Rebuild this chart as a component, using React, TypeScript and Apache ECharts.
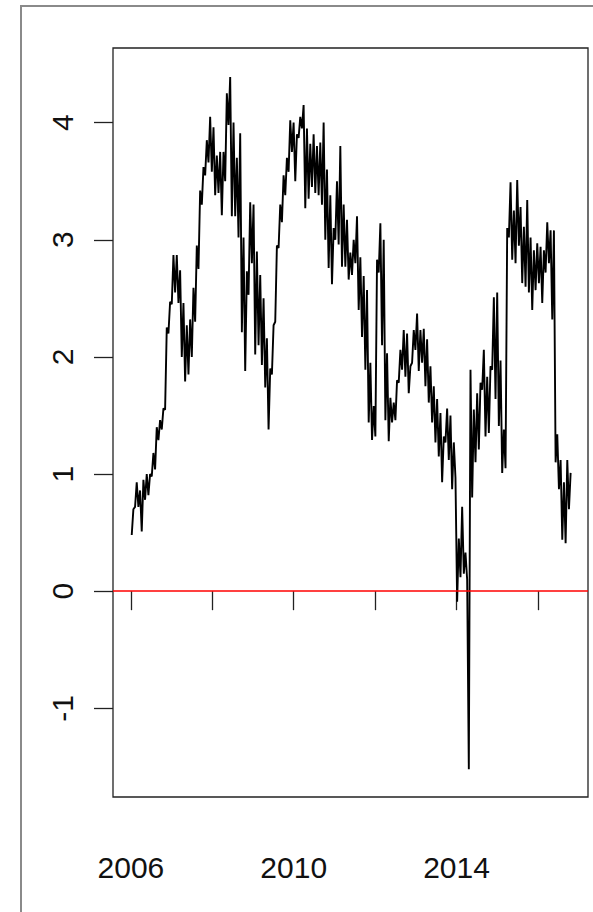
import React, { useEffect, useRef } from "react";
import * as echarts from "echarts";

// Sampling of the series (decimal years), one value every STEP years
const START_YEAR = 2006.02;
const STEP = 0.041;

// Series values (alternating low / high envelope)
const vals2006 = [
  0.48, 0.70, 0.72, 0.93, 0.72, 0.86, 0.51, 0.95, 0.78, 1.00,
  0.82, 1.00, 0.98, 1.18, 1.04, 1.40, 1.29, 1.46, 1.38, 1.56,
  1.55, 2.25, 2.20, 2.47, 2.45, 2.87, 2.55, 2.87, 2.46, 2.74,
  2.00, 2.46, 1.79, 2.27, 1.85, 2.32, 2.00, 2.59, 2.30, 2.95,
  2.75, 3.42, 3.30, 3.62, 3.55, 3.85, 3.66, 4.05, 3.58, 3.96,
];
const vals2008 = [
  3.38, 3.72, 3.40, 3.75, 3.21, 3.75, 3.50, 4.25, 3.98, 4.39,
  3.20, 4.00, 3.20, 3.70, 3.02, 3.91, 2.21, 3.02, 1.88, 2.73,
  2.53, 3.32, 2.80, 3.30, 2.02, 2.90, 2.10, 2.70, 1.93, 2.50,
  1.74, 2.16, 1.38, 1.90, 1.85, 2.27, 2.30, 2.95, 2.93, 3.30,
  3.15, 3.55, 3.38, 3.70, 3.58, 4.02, 3.75, 4.00, 3.50, 3.90,
];
const vals2010 = [
  3.87, 4.05, 3.95, 4.15, 3.27, 3.95, 3.35, 3.82, 3.45, 3.90,
  3.40, 3.80, 3.38, 3.83, 3.30, 4.00, 3.00, 3.60, 2.76, 3.38,
  2.62, 3.10, 3.00, 3.50, 2.96, 3.80, 2.77, 3.30, 2.77, 3.17,
  2.66, 2.89, 2.70, 3.00, 2.80, 3.20, 2.40, 2.85, 2.17, 2.69,
  1.89, 2.57, 1.44, 1.95, 1.29, 1.58, 1.32, 2.83, 2.72, 3.14,
];
const vals2012 = [
  2.10, 3.00, 1.46, 2.03, 1.28, 1.65, 1.44, 1.61, 1.46, 1.80,
  1.78, 2.06, 1.89, 2.23, 1.83, 2.20, 1.69, 1.92, 1.95, 2.23,
  2.06, 2.37, 1.88, 2.23, 1.95, 2.24, 1.75, 2.15, 1.61, 1.92,
  1.44, 1.75, 1.27, 1.64, 1.15, 1.52, 0.93, 1.32, 1.27, 1.56,
  1.12, 1.50, 0.87, 1.27, 0.97, -0.09, 0.45, 0.12, 0.72, 0.15,
];
const vals2014 = [
  0.33, 0.10, -1.52, 1.89, 0.80, 1.55, 1.10, 1.69, 1.21, 1.78,
  1.72, 2.06, 1.32, 1.83, 1.35, 1.92, 1.89, 2.51, 1.64, 2.55,
  1.41, 1.97, 1.01, 1.38, 1.05, 3.10, 3.02, 3.49, 2.83, 3.25,
  2.80, 3.51, 2.95, 3.28, 2.63, 3.11, 2.60, 3.34, 2.55, 3.02,
  2.40, 2.91, 2.57, 2.97, 2.63, 2.94, 2.46, 2.91, 2.72, 3.15,
  2.80, 3.08, 2.32, 3.08, 1.10, 1.34, 0.87, 1.12, 0.44, 0.93,
  0.41, 1.12, 0.70, 1.01,
];

const xTickValues = [2006, 2008, 2010, 2012, 2014, 2016];
const xLabelValues = [2006, 2010, 2014];
const yTickValues = [-1, 0, 1, 2, 3, 4];
const refLineValue = 0;

const FONT = "'Liberation Sans', Arial, sans-serif";

export default function App() {
  const ref = useRef<HTMLDivElement>(null);

  useEffect(() => {
    document.body.style.margin = "0";
    if (!ref.current) return;
    const chart = echarts.init(ref.current, null, { renderer: "svg" });

    const values = [...vals2006, ...vals2008, ...vals2010, ...vals2012, ...vals2014];
    const data = values.map((v, i) => [START_YEAR + i * STEP, v]);

    chart.setOption({
      animation: false,
      backgroundColor: "#ffffff",
      textStyle: { fontFamily: FONT },
      graphic: [
        {
          type: "rect",
          z: -10,
          shape: { x: 21, y: 6, width: 700, height: 1000 },
          style: { fill: "none", stroke: "#8a8a8a", lineWidth: 2 },
          silent: true,
        },
      ],
      grid: {
        left: 113,
        top: 48,
        width: 475,
        height: 749,
        show: true,
        borderColor: "#222",
        borderWidth: 1.3,
        backgroundColor: "transparent",
      },
      xAxis: {
        type: "value",
        min: 2005.56,
        max: 2017.23,
        axisLine: { show: false },
        splitLine: { show: false },
        axisTick: {
          show: true,
          customValues: xTickValues,
          length: 19,
          lineStyle: { color: "#222", width: 1.3 },
        },
        axisLabel: {
          customValues: xLabelValues,
          formatter: (v: number) => String(v),
          fontSize: 30,
          color: "#111",
          fontFamily: FONT,
          margin: 55,
        },
      },
      yAxis: {
        type: "value",
        min: -1.757,
        max: 4.637,
        axisLine: { show: false },
        splitLine: { show: false },
        axisTick: {
          show: true,
          customValues: yTickValues,
          length: 19,
          lineStyle: { color: "#222", width: 1.3 },
        },
        axisLabel: {
          customValues: yTickValues,
          formatter: (v: number) => String(v),
          fontSize: 30,
          color: "#111",
          fontFamily: FONT,
          rotate: 90,
          margin: 36,
        },
      },
      series: [
        {
          type: "line",
          data,
          showSymbol: false,
          symbol: "none",
          lineStyle: { color: "#000", width: 1.9 },
          clip: true,
          markLine: {
            silent: true,
            symbol: ["none", "none"],
            label: { show: false },
            lineStyle: { color: "#ff0000", width: 1.6, type: "solid" },
            data: [{ yAxis: refLineValue }],
          },
        },
      ],
    });

    return () => chart.dispose();
  }, []);

  return (
    <div
      ref={ref}
      style={{ position: "absolute", left: 0, top: 0, width: 593, height: 912 }}
    />
  );
}
